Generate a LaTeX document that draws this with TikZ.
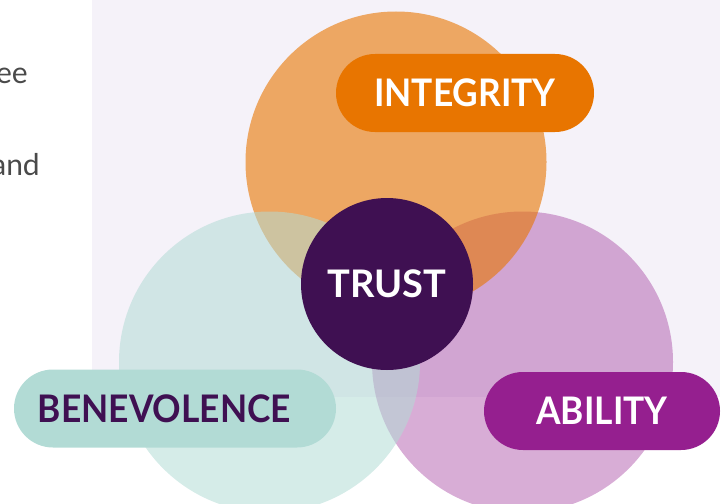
\documentclass[tikz,border=0pt]{standalone}
\usepackage{fontspec}
\setmainfont{Lato}
\newfontfamily\pillfont[FakeStretch=0.93]{Lato}

\definecolor{integrityorange}{HTML}{E87500}
\definecolor{benevteal}{HTML}{B2DBD5}
\definecolor{abilitypurple}{HTML}{951F8F}
\definecolor{trustplum}{HTML}{3F1052}
\definecolor{panellav}{HTML}{F5F2F9}
\definecolor{bodygray}{HTML}{4A4A4A}

\begin{document}
\begin{tikzpicture}[x=1pt,y=-1pt,
		bigcircle/.style={circle, minimum size=301pt, inner sep=0pt},
		pill/.style={rectangle, rounded corners=39pt, minimum height=78pt, inner sep=0pt,
			font=\pillfont\bfseries\fontsize{38}{40}\selectfont},
		bodytext/.style={text=bodygray, inner sep=0pt, font=\fontsize{30}{32}\selectfont}]
		\useasboundingbox (0,0) rectangle (727,503);

		% Panel behind the circles
		\fill[panellav] (92,0) rectangle (720,397);

		% Cut-off paragraph on the left
		\node[bodytext, anchor=base east] (line1) at (28,83) {ee};
		\node[bodytext, anchor=base east] (line2) at (40,175) {and};

		% Three overlapping circles
		\node[bigcircle, fill=abilitypurple, fill opacity=0.365] (abilityc) at (522.5,362) {};
		\node[bigcircle, fill=integrityorange, fill opacity=0.6] (integrityc) at (396,162) {};
		\node[bigcircle, fill=benevteal, fill opacity=0.54] (benevc) at (269.5,362) {};

		% Centre
		\node[circle, fill=trustplum, minimum size=172pt, inner sep=0pt, text=white,
			font=\bfseries\fontsize{38}{40}\selectfont] (trust) at (387,284) {TRUST};

		% Labels
		\node[pill, fill=integrityorange, text=white, minimum width=258pt] (integrity) at (465,93) {INTEGRITY};
		\node[pill, fill=benevteal, text=trustplum, minimum width=322pt] (benevolence) at (175,408.5) {BENEVOLENCE\hspace*{21pt}};
		\node[pill, fill=abilitypurple, text=white, minimum width=236pt] (ability) at (602,411) {ABILITY};
	\end{tikzpicture}
\end{document}
